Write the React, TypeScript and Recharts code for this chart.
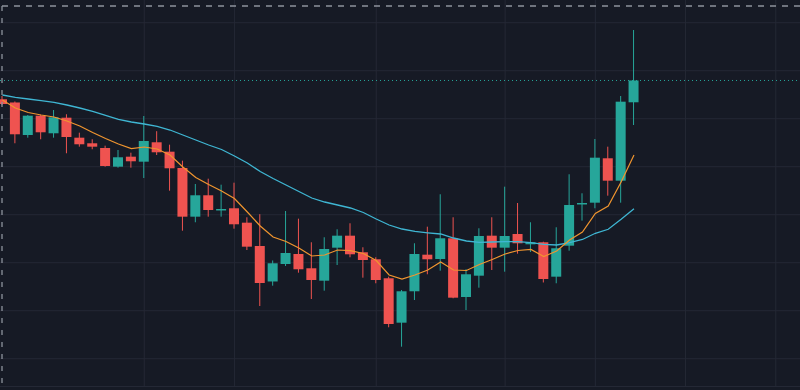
import { ComposedChart, Bar, Line, XAxis, YAxis, ReferenceLine } from "recharts";

const opens = [160.86, 160.06, 151.93, 156.76, 152.36, 156.26, 151.26, 149.86, 148.68, 144.01, 146.51, 145.26, 150.11, 147.76, 143.68, 131.51, 136.86, 133.06, 133.61, 130.01, 124.18, 115.31, 119.68, 122.18, 118.61, 115.51, 123.76, 126.76, 122.61, 120.86, 116.11, 105.01, 112.86, 122.01, 120.93, 126.11, 111.43, 116.76, 126.76, 123.76, 127.18, 124.61, 125.11, 116.51, 124.26, 134.56, 135.01, 146.11, 140.51, 160.11];
const highs = [161.68, 160.31, 156.93, 157.01, 158.18, 157.11, 152.51, 150.86, 149.26, 148.18, 147.51, 156.68, 152.88, 149.51, 145.51, 139.68, 141.01, 139.51, 140.01, 131.36, 132.13, 120.56, 132.93, 131.01, 125.11, 126.36, 128.36, 129.86, 123.86, 121.36, 116.51, 113.18, 124.86, 129.01, 137.11, 131.36, 118.36, 128.61, 131.36, 139.01, 134.93, 130.11, 125.26, 128.86, 142.11, 137.36, 150.93, 149.01, 161.68, 178.18];
const lows = [159.43, 149.86, 151.26, 150.86, 151.26, 147.36, 149.01, 148.36, 144.01, 143.76, 143.76, 141.18, 146.93, 138.01, 128.01, 130.11, 131.51, 131.51, 128.51, 123.18, 109.18, 114.26, 119.18, 117.51, 110.93, 113.01, 119.43, 121.36, 116.26, 114.86, 103.86, 99.01, 110.68, 117.11, 118.01, 111.11, 108.18, 113.76, 118.18, 117.76, 122.26, 122.68, 115.06, 114.86, 123.01, 130.51, 133.61, 136.76, 135.01, 154.43];
const closes = [159.68, 152.11, 156.76, 152.61, 156.36, 151.43, 149.61, 149.01, 144.18, 146.36, 145.36, 150.43, 147.61, 143.61, 131.51, 136.86, 133.18, 133.43, 129.61, 124.01, 114.93, 119.86, 122.43, 118.36, 115.68, 123.43, 126.76, 122.11, 120.68, 115.68, 104.68, 112.86, 122.18, 120.86, 126.11, 111.26, 117.11, 126.68, 123.76, 126.68, 124.86, 125.11, 115.93, 123.61, 134.43, 134.93, 146.26, 140.51, 160.26, 165.56];
const fastMA = [160.68, 158.68, 157.56, 156.93, 156.43, 155.43, 154.18, 152.56, 151.06, 149.68, 148.51, 148.93, 148.43, 146.93, 143.93, 141.31, 139.56, 137.93, 136.06, 132.68, 129.18, 126.43, 125.31, 123.68, 121.68, 121.93, 123.18, 123.01, 122.31, 120.56, 116.93, 115.93, 116.93, 118.18, 120.18, 118.18, 118.06, 119.56, 120.81, 122.18, 123.06, 123.31, 121.56, 122.93, 125.68, 127.68, 132.31, 134.18, 140.18, 146.93];
const slowMA = [161.93, 161.36, 160.93, 160.51, 160.11, 159.43, 158.68, 157.81, 156.81, 155.86, 155.18, 154.68, 154.06, 153.18, 151.93, 150.68, 149.43, 148.31, 146.68, 144.93, 142.81, 141.06, 139.43, 137.81, 136.18, 135.18, 134.43, 133.68, 132.56, 130.93, 129.43, 128.43, 127.81, 127.48, 127.18, 126.18, 125.43, 125.11, 125.18, 125.26, 125.26, 125.01, 124.61, 124.43, 125.01, 125.81, 127.36, 128.36, 130.86, 133.51];

// empty slots to the right of the last candle
const TOTAL_SLOTS = 63;
const priceTicks = [180, 168, 156, 144, 132, 120, 108, 96];
const timeMarks = [11, 18, 29, 39, 46, 53, 60];
const priceDomain = [89.18, 185.68];

const BG = "#161a25";
const GRID = "#242835";
const UP = "#26a69a";
const DOWN = "#ef5350";

const rows = Array.from({ length: TOTAL_SLOTS }, (_, i) =>
  i < opens.length
    ? { i, o: opens[i], h: highs[i], l: lows[i], c: closes[i], fast: fastMA[i], slow: slowMA[i] }
    : { i }
);

const lastClose = closes[closes.length - 1];
const candleRange = (d: any) => (d.o == null ? null : [d.l, d.h]);

function Candle(props: any) {
  const { x, y, width, height, payload } = props;
  if (!payload || payload.o == null) return null;
  const { o, h, l, c } = payload;
  const color = c >= o ? UP : DOWN;
  const ppu = Math.abs(height) / (h - l);
  const top = y + (h - Math.max(o, c)) * ppu;
  const bottom = y + (h - Math.min(o, c)) * ppu;
  const cx = x + width / 2;
  return (
    <g>
      <line x1={cx} x2={cx} y1={y} y2={y + Math.abs(height)} stroke={color} strokeWidth={1} />
      <rect x={x} y={top} width={width} height={Math.max(bottom - top, 1.2)} fill={color} />
    </g>
  );
}

const chartProps = {
  width: 812,
  height: 386,
  data: rows,
  margin: { top: 0, right: 0, bottom: 0, left: 0 },
};

const layer: React.CSSProperties = { position: "absolute", left: -4.14, top: 0 };

export default function App() {
  return (
    <div
      style={{
        position: "absolute",
        left: 0,
        top: 0,
        width: 800,
        height: 390,
        background: BG,
        overflow: "hidden",
      }}
    >
      {/* grid sits in its own chart underneath so the candles cover it */}
      <div style={layer}>
        <ComposedChart {...chartProps}>
          <XAxis dataKey="i" type="category" hide />
          <YAxis type="number" domain={priceDomain} hide allowDataOverflow />
          {/* invisible bar keeps the same band scale as the candle chart */}
          <Bar dataKey={candleRange} barSize={10} shape={() => null} isAnimationActive={false} />
          {priceTicks.map((p) => (
            <ReferenceLine key={"h" + p} y={p} stroke={GRID} strokeWidth={1} />
          ))}
          {timeMarks.map((t) => (
            <ReferenceLine key={"v" + t} x={t} stroke={GRID} strokeWidth={1} />
          ))}
        </ComposedChart>
      </div>
      <div style={{ position: "absolute", left: 0, top: 386, width: 800, height: 1, background: GRID }} />
      <div style={layer}>
        <ComposedChart {...chartProps}>
          <XAxis dataKey="i" type="category" hide />
          <YAxis type="number" domain={priceDomain} hide allowDataOverflow />
          <ReferenceLine y={lastClose} stroke={UP} strokeDasharray="1 3" strokeWidth={1} />
          <Bar dataKey={candleRange} barSize={10} shape={Candle} isAnimationActive={false} />
          <Line dataKey="slow" stroke="#3fb6d3" strokeWidth={1.3} dot={false} activeDot={false} isAnimationActive={false} />
          <Line dataKey="fast" stroke="#f0952f" strokeWidth={1.2} dot={false} activeDot={false} isAnimationActive={false} />
        </ComposedChart>
      </div>
      <svg width={800} height={390} style={{ position: "absolute", left: 0, top: 0, pointerEvents: "none" }}>
        <line x1={2} x2={800} y1={6} y2={6} stroke="#8d929c" strokeWidth={1.3} strokeDasharray="6 6" />
        <line x1={2} x2={2} y1={6} y2={390} stroke="#8d929c" strokeWidth={1.3} strokeDasharray="5 7" />
      </svg>
    </div>
  );
}
